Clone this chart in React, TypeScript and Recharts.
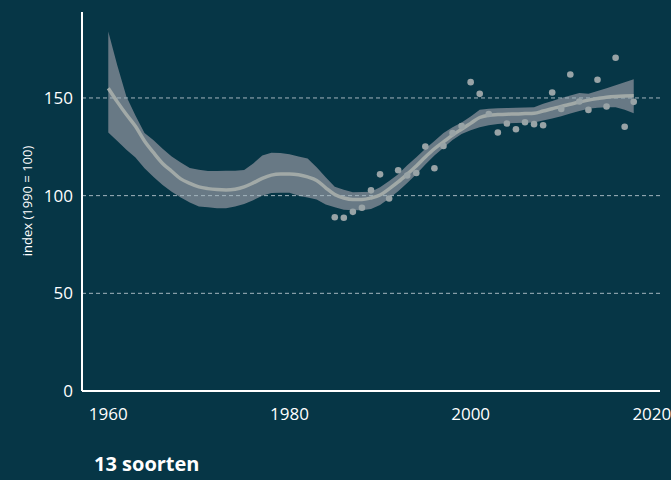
import React from 'react';
import { ComposedChart, Area, Line, Scatter, XAxis, YAxis, ReferenceLine, Label } from 'recharts';

const years = [
  1960, 1961, 1962, 1963, 1964, 1965, 1966, 1967, 1968, 1969,
  1970, 1971, 1972, 1973, 1974, 1975, 1976, 1977, 1978, 1979,
  1980, 1981, 1982, 1983, 1984, 1985, 1986, 1987, 1988, 1989,
  1990, 1991, 1992, 1993, 1994, 1995, 1996, 1997, 1998, 1999,
  2000, 2001, 2002, 2003, 2004, 2005, 2006, 2007, 2008, 2009,
  2010, 2011, 2012, 2013, 2014, 2015, 2016, 2017, 2018,
];

const smooth = [
  155, 148, 141.5, 135.5, 128, 122, 116.5, 112.5, 108.6, 106.3,
  104.5, 103.6, 103.1, 102.9, 103.3, 104.5, 106.5, 108.8, 110.5, 111.1,
  111.1, 110.7, 109.6, 107.8, 104, 100.6, 98.8, 98, 98, 98.8,
  100.3, 103.5, 107, 111, 115.2, 119.8, 124, 127.5, 131, 134,
  137, 140, 141.2, 141.5, 141.7, 141.8, 142, 142.2, 143.3, 144.5,
  145.7, 146.8, 147.9, 148.9, 149.7, 150.4, 150.8, 151, 151.1,
];

const lower = [
  132.3, 128, 123.5, 119.5, 114, 109.5, 105.5, 102, 99, 96.5,
  94.5, 94, 93.6, 93.5, 94.5, 95.7, 97.7, 100, 101.3, 101.5,
  101.5, 100, 99, 98, 95.5, 94, 92.8, 92.5, 92.5, 93.2,
  95.2, 98.5, 102.2, 106.5, 111, 116, 120.5, 124.5, 128.5, 131.5,
  133.5, 135, 136, 136.7, 137, 137.2, 137.3, 137.4, 138.5, 139.5,
  140.7, 142, 143.3, 144.5, 145, 145.2, 145.3, 144, 142.2,
];

const upper = [
  184, 166.6, 150.7, 141, 132, 128.3, 124, 120, 117, 114.2,
  113.2, 112.6, 112.6, 112.7, 112.8, 113.1, 116.5, 120.5, 122, 121.8,
  121.2, 120, 119, 114.5, 109.4, 104.5, 103, 101.7, 101.8, 102,
  104.3, 107.5, 111, 115.5, 119.6, 124, 128, 132, 135, 137.5,
  140.5, 144, 144.5, 144.7, 144.8, 145, 145.1, 145.3, 147, 148.5,
  150, 151.2, 152.5, 152.2, 153.5, 155, 156.5, 158, 159.6,
];

const pointYears = [
  1985, 1986, 1987, 1988, 1989, 1990, 1991, 1992, 1993, 1994,
  1995, 1996, 1997, 1998, 1999, 2000, 2001, 2002, 2003, 2004,
  2005, 2006, 2007, 2008, 2009, 2010, 2011, 2012, 2013, 2014,
  2015, 2016, 2017, 2018,
];

const pointValues = [
  88.9, 88.7, 91.7, 93.8, 102.7, 110.9, 98.5, 113, 110.3, 111.6,
  125.1, 114, 125.4, 132, 135.6, 158.1, 152.1, 141.8, 132.3, 136.9,
  134, 137.6, 136.6, 136, 152.8, 144.4, 162, 148.2, 143.9, 159.3,
  145.6, 170.6, 135.3, 148,
];

const xTicks = [1960, 1980, 2000, 2020];
const yTicks = [0, 50, 100, 150];
const gridValues = [50, 100, 150];
const yLabel = 'index (1990 = 100)';
const title = '13 soorten';

const data = years.map((year, i) => ({ year, smooth: smooth[i], band: [lower[i], upper[i]] }));
const points = pointYears.map((year, i) => ({ year, value: pointValues[i] }));

const FONT = '"Open Sans", "DejaVu Sans", sans-serif';
const BG = '#063646';

export default function App() {
  return (
    <div style={{ position: 'absolute', left: 0, top: 0, width: 671, height: 480, background: BG, fontFamily: FONT, overflow: 'hidden' }}>
      <ComposedChart width={671} height={480} data={data} margin={{ top: 12, right: 11, left: 0, bottom: 59 }}>
        <XAxis
          type="number"
          dataKey="year"
          domain={[1957.1, 2020.9]}
          ticks={xTicks}
          interval={0}
          height={30}
          axisLine={{ stroke: '#ffffff', strokeWidth: 2 }}
          tickLine={false}
          tickSize={6}
          tickMargin={11}
          tick={{ fill: '#ffffff', fontSize: 17, fontFamily: FONT }}
          allowDataOverflow
        />
        <YAxis
          type="number"
          domain={[0, 194]}
          ticks={yTicks}
          interval={0}
          width={82}
          axisLine={{ stroke: '#ffffff', strokeWidth: 2 }}
          tickLine={false}
          tickSize={6}
          tickMargin={3}
          tick={{ fill: '#ffffff', fontSize: 17, fontFamily: FONT }}
          allowDataOverflow
        >
          <Label
            content={() => (
              <text
                x={27}
                y={201}
                transform="rotate(-90, 27, 201)"
                textAnchor="middle"
                dominantBaseline="central"
                fill="#ffffff"
                fontSize={13}
                fontFamily={FONT}
              >
                {yLabel}
              </text>
            )}
          />
        </YAxis>
        {gridValues.map((v) => (
          <ReferenceLine key={v} y={v} stroke="#a3b5bd" strokeDasharray="4 3" strokeWidth={1} />
        ))}
        <Area
          type="linear"
          dataKey="band"
          fill="#687985"
          fillOpacity={1}
          stroke="none"
          isAnimationActive={false}
          activeDot={false}
        />
        <Line
          type="monotone"
          dataKey="smooth"
          stroke="#a1a9a7"
          strokeWidth={3.5}
          dot={false}
          activeDot={false}
          isAnimationActive={false}
        />
        <Scatter
          data={points}
          dataKey="value"
          fill="#98a3a6"
          isAnimationActive={false}
          shape={(p: any) => <circle cx={p.cx} cy={p.cy} r={3.3} fill="#98a3a6" />}
        />
      </ComposedChart>
      <div style={{ position: 'absolute', left: 94, top: 454, fontSize: 20, fontWeight: 'bold', color: '#ffffff', lineHeight: '20px', fontFamily: FONT }}>
        {title}
      </div>
    </div>
  );
}
